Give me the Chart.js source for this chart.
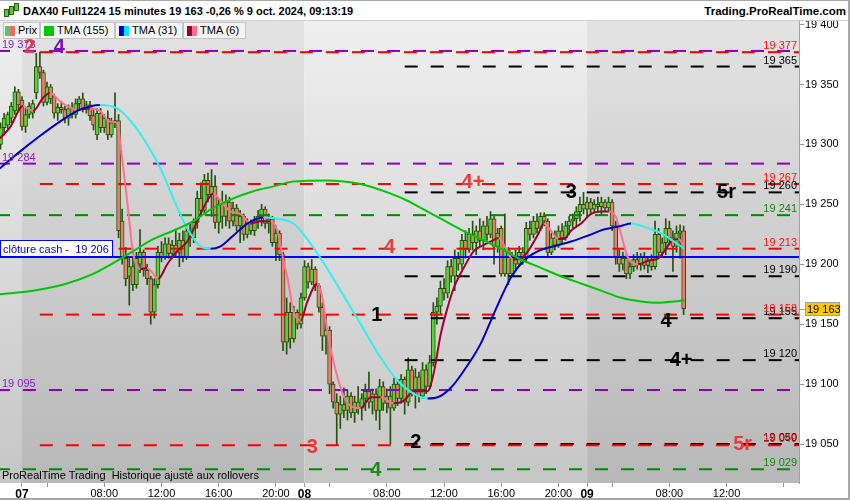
<!DOCTYPE html>
<html>
<head>
<meta charset="utf-8">
<script src="https://cdn.jsdelivr.net/npm/chart.js"></script>
<style>
	body { margin: 0; background: #fff; font-family: "Liberation Sans", Arial, sans-serif; color: #000; }
	#wrap { position: relative; width: 850px; height: 500px; overflow: hidden; background: #fff; }
	#chart { position: absolute; left: 0; top: 0; }
	#head { position: absolute; left: 0; top: 0; width: 850px; height: 20px; background: #fff; border-bottom: 1px solid #cfcfcf; }
	#title { position: absolute; left: 23px; top: 5px; font-weight: bold; font-size: 11px; line-height: 13px; white-space: nowrap; }
	#site { position: absolute; right: 4px; top: 5px; font-weight: bold; font-size: 11.5px; line-height: 13px; }
	.ic { position: absolute; width: 3px; background: #5ac83c; border: 1px solid #2b5e12; }
	.lg { position: absolute; top: 22px; height: 17px; box-sizing: border-box; border: 1px solid #c4c4c4; background: #f5f5f5; font-size: 11px; line-height: 15px; white-space: nowrap; }
	.sw { position: absolute; top: 3px; width: 10px; height: 10px; }
	.lg .t { position: absolute; top: 0; }
	#foot { position: absolute; left: 2px; top: 469px; font-size: 11px; line-height: 13px; white-space: nowrap; }
	#frame { position: absolute; left: 0; top: 0; width: 850px; height: 500px; box-sizing: border-box; border-top: 1px solid #a8a8a8; border-right: 2px solid #a8a8a8; border-bottom: 2px solid #a8a8a8; pointer-events: none; }
</style>
</head>
<body>
<div id="wrap">
	<canvas id="chart" width="850" height="500"></canvas>
	<div id="head">
		<div class="ic" style="left:4px;top:9px;height:6px"></div>
		<div class="ic" style="left:9px;top:6px;height:7px"></div>
		<div class="ic" style="left:14px;top:3px;height:6px"></div>
		<div id="title">DAX40 Full1224 15 minutes 19 163 -0,26 % 9 oct. 2024, 09:13:19</div>
		<div id="site">Trading.ProRealTime.com</div>
	</div>
	<div class="lg" style="left:3px;width:37px">
		<div class="sw" style="left:1px;background:linear-gradient(90deg,#5ac85a 50%,#e86a6a 50%)"></div>
		<span class="t" style="left:14px">Prix</span>
	</div>
	<div class="lg" style="left:40px;width:75px">
		<div class="sw" style="left:3px;background:#00c800"></div>
		<span class="t" style="left:16px">TMA (155)</span>
	</div>
	<div class="lg" style="left:115px;width:68px">
		<div class="sw" style="left:3px;background:linear-gradient(90deg,#0000d0 50%,#00e8ff 50%)"></div>
		<span class="t" style="left:16px">TMA (31)</span>
	</div>
	<div class="lg" style="left:183px;width:63px">
		<div class="sw" style="left:3px;background:linear-gradient(90deg,#a00030 50%,#ff6e96 50%)"></div>
		<span class="t" style="left:16px">TMA (6)</span>
	</div>
	<div id="foot">ProRealTime Trading&nbsp; Historique ajusté aux rollovers</div>
	<div id="frame"></div>
</div>
<script>
// bougies 15 min : 4 oct 20:30 -> 9 oct 09:00
var opens = [19300,19314,19316,19322,19328,19344,19337,19315,19325,19326,19343,19365,19360,19335,19348,19340,19326,19331,19329,19322,
	19330,19325,19334,19338,19330,19333,19324,19308,19326,19314,19322,19308,19318,19320,19236,19205,19190,19198,19183,19200,
	19210,19195,19188,19160,19183,19210,19206,19217,19209,19216,19210,19220,19206,19228,19222,19235,19255,19245,19270,19258,
	19265,19235,19250,19240,19252,19236,19247,19232,19240,19225,19234,19228,19236,19240,19246,19234,19238,19218,19226,19208,
	19135,19160,19138,19160,19150,19172,19198,19185,19196,19182,19164,19140,19145,19100,19085,19075,19083,19078,19090,19076,
	19085,19080,19088,19094,19085,19092,19078,19098,19084,19090,19080,19100,19088,19104,19085,19112,19095,19106,19090,19112,
	19098,19118,19160,19165,19180,19176,19198,19190,19205,19200,19220,19212,19225,19218,19228,19220,19232,19225,19238,19215,
	19230,19192,19212,19192,19205,19200,19210,19205,19230,19225,19236,19230,19240,19236,19210,19222,19216,19228,19222,19232,
	19236,19238,19244,19250,19246,19252,19246,19250,19248,19252,19247,19252,19232,19206,19200,19205,19192,19198,19204,19200,
	19206,19199,19203,19198,19225,19210,19218,19230,19222,19215,19226,19228];
var highs = [19318,19326,19327,19335,19348,19346,19340,19330,19335,19337,19376,19377,19362,19352,19350,19342,19334,19336,19332,19333,
	19335,19338,19340,19343,19336,19336,19330,19330,19330,19325,19328,19322,19343,19325,19246,19214,19205,19205,19210,19229,
	19212,19200,19190,19188,19215,19219,19222,19222,19220,19228,19226,19228,19232,19234,19238,19261,19268,19275,19276,19279,
	19274,19255,19261,19258,19256,19252,19250,19245,19242,19238,19237,19240,19245,19250,19248,19242,19240,19232,19228,19210,
	19172,19168,19165,19162,19176,19203,19201,19204,19198,19184,19168,19158,19148,19102,19092,19090,19097,19095,19093,19090,
	19098,19092,19100,19110,19096,19096,19104,19102,19096,19098,19105,19104,19108,19106,19122,19115,19113,19110,19118,19116,
	19124,19168,19172,19186,19188,19203,19204,19212,19210,19225,19228,19230,19236,19232,19238,19236,19240,19244,19240,19230,
	19232,19242,19214,19210,19212,19215,19214,19235,19236,19240,19242,19243,19243,19238,19226,19228,19232,19234,19236,19240,
	19242,19248,19256,19260,19256,19255,19254,19256,19256,19254,19256,19254,19236,19212,19210,19208,19202,19208,19210,19209,
	19210,19206,19208,19236,19230,19222,19238,19236,19228,19232,19233,19232];
var lows = [19296,19308,19313,19318,19325,19327,19312,19310,19322,19322,19338,19355,19332,19333,19334,19322,19320,19326,19318,19316,
	19322,19322,19330,19327,19326,19320,19312,19304,19310,19310,19304,19306,19314,19222,19200,19182,19166,19178,19180,19193,
	19190,19183,19150,19155,19180,19202,19204,19205,19205,19206,19198,19202,19204,19215,19218,19230,19240,19243,19252,19240,
	19230,19226,19230,19232,19230,19232,19228,19218,19220,19222,19225,19224,19230,19232,19230,19226,19215,19203,19203,19128,
	19125,19130,19135,19146,19147,19170,19180,19183,19178,19160,19128,19125,19092,19080,19049,19063,19072,19070,19072,19068,
	19075,19070,19078,19080,19075,19070,19062,19078,19076,19050,19078,19082,19084,19075,19082,19090,19080,19085,19088,19092,
	19096,19115,19150,19158,19170,19172,19185,19178,19195,19196,19205,19210,19212,19208,19215,19212,19220,19222,19200,19210,
	19190,19190,19183,19190,19196,19198,19200,19202,19220,19222,19226,19228,19232,19206,19208,19212,19214,19218,19220,19225,
	19230,19232,19236,19242,19240,19242,19243,19244,19242,19244,19244,19228,19200,19194,19195,19188,19188,19194,19196,19195,
	19196,19193,19195,19196,19205,19206,19208,19216,19194,19210,19205,19158];
var closes = [19314,19322,19325,19332,19344,19333,19315,19325,19332,19334,19365,19360,19335,19348,19338,19326,19331,19329,19322,19330,
	19325,19334,19338,19330,19333,19324,19316,19326,19314,19322,19308,19318,19320,19228,19205,19188,19198,19183,19205,19210,
	19195,19188,19160,19183,19210,19206,19217,19209,19216,19210,19220,19206,19228,19222,19235,19255,19245,19270,19258,19265,
	19235,19250,19240,19252,19236,19247,19232,19240,19225,19234,19228,19236,19240,19246,19234,19238,19218,19226,19208,19135,
	19160,19138,19160,19150,19172,19198,19185,19196,19182,19164,19140,19145,19100,19085,19075,19083,19078,19090,19076,19085,
	19080,19088,19094,19085,19092,19078,19098,19084,19090,19080,19100,19088,19104,19085,19112,19095,19106,19090,19112,19098,
	19118,19160,19165,19180,19176,19198,19190,19205,19200,19220,19212,19225,19218,19228,19220,19232,19225,19238,19215,19226,
	19192,19212,19192,19205,19200,19210,19205,19230,19225,19236,19230,19240,19236,19210,19222,19216,19228,19222,19232,19236,
	19238,19244,19250,19246,19252,19246,19250,19248,19252,19247,19252,19232,19206,19200,19205,19192,19198,19204,19200,19206,
	19199,19203,19198,19225,19210,19218,19230,19222,19215,19226,19228,19163];

// moyennes : [indice de barre, valeur]
var tma6 = [[-0.2,19305],[2.6,19314],[6.3,19332],[9.1,19328],[11.9,19339],[13.8,19343],[16.6,19336],[18.6,19332],[21.4,19329],[25.0,19330],
	[27.8,19328],[30.6,19319],[32.6,19318],[33.5,19300],[35.4,19253],[37.1,19209],[39.1,19196],[41.0,19197],[42.7,19192],[44.1,19188],
	[46.6,19200],[49.4,19211],[52.2,19219],[55.0,19236],[57.8,19253],[59.5,19259],[61.5,19253],[64.3,19244],[67.1,19242],[69.9,19234],
	[72.7,19236],[75.5,19236],[77.4,19228],[79.1,19203],[80.2,19189],[81.9,19161],[83.9,19153],[85.8,19169],[88.6,19184],[90.0,19172],
	[91.4,19144],[93.1,19119],[95.1,19097],[97.0,19084],[100.7,19080],[103.5,19089],[106.3,19089],[109.9,19084],[112.7,19086],[115.5,19094],
	[119.4,19094],[121.1,19109],[123.1,19142],[125.0,19164],[126.7,19180],[129.5,19197],[132.3,19211],[134.3,19215],[137.1,19219],[139.3,19222],
	[141.3,19213],[143.3,19204],[145.5,19205],[147.5,19211],[150.3,19225],[151.9,19234],[153.9,19228],[155.9,19221],[157.5,19221],[159.5,19228],
	[162.3,19234],[165.1,19242],[167.9,19244],[170.1,19244],[172.1,19239],[173.5,19225],[175.5,19205],[178.3,19200],[181.1,19203],[183.9,19205],
	[185.6,19211],[187.5,19219],[189.5,19221],[191.2,19215]];
var tma31 = [[-0.2,19280],[5.4,19294],[11.0,19307],[16.6,19319],[22.2,19329],[27.8,19333],[32.6,19330],[37.1,19317],[41.0,19300],[44.7,19280],
	[48.3,19255],[52.2,19230],[55.9,19215],[58.7,19213],[61.5,19215],[65.1,19224],[69.0,19234],[73.5,19239],[77.4,19238],[81.9,19234],
	[83.9,19228],[89.5,19205],[95.1,19178],[100.7,19150],[106.3,19122],[111.0,19103],[115.5,19092],[119.4,19088],[122.2,19089],[125.9,19097],
	[129.5,19111],[134.3,19134],[137.1,19153],[139.9,19172],[142.7,19189],[146.3,19203],[150.3,19211],[154.7,19215],[159.5,19219],[164.3,19224],
	[168.7,19229],[173.5,19232],[176.3,19234],[181.1,19230],[184.7,19226],[188.3,19219],[191.2,19213]];
var tma155 = [[-0.2,19175],[9.1,19178],[18.6,19184],[25.9,19192],[31.5,19201],[37.1,19211],[42.7,19221],[48.3,19228],[53.9,19236],[59.5,19247],
	[65.1,19255],[70.7,19261],[76.3,19265],[81.9,19269],[90.9,19270],[100.7,19267],[109.1,19259],[113.8,19253],[117.5,19247],[123.1,19238],
	[128.7,19229],[134.3,19221],[139.9,19213],[145.5,19204],[151.1,19197],[156.7,19190],[162.3,19184],[167.9,19178],[173.5,19172],[179.1,19169],
	[183.9,19168],[188.3,19169],[191.2,19170]];

// niveaux horizontaux
var levelValues = [19378, 19377, 19365, 19284, 19267, 19260, 19241, 19213, 19190, 19158, 19155, 19120, 19095, 19049, 19050, 19029];
var levelKind   = ['violet','rouge','noir','violet','rouge','noir','vert','rouge','noir','rouge','noir','noir','violet','rouge','noir','vert'];
var levelFrom   = [-1, 11, 113, -1, 11, 113, -1, 33, 113, 11, 113, 113, -1, 11, 113, -1];
var cashLevel = 19206;

// repères numérotés
var markText = ['2', '4', '4+', '3', '5r', '4', '1', '4', '4+', '3', '2', '5r', '4'];
var markKind = ['rouge','violet','rouge','noir','noir','rouge','noir','noir','noir','rouge','noir','rouge','vert'];
var markIdx  = [8.1, 16.4, 132.1, 159.6, 203.0, 108.8, 105.2, 186.1, 190.3, 87.2, 116.1, 207.5, 104.9];
var markVal  = [19381, 19381, 19268, 19260, 19260, 19214, 19157, 19152, 19120, 19047, 19051, 19050, 19028];

// axe du temps
var dayStart = [6, 85, 164];
var xTickIdx  = [6, 13, 29, 45, 61, 77, 85, 92, 108, 124, 140, 156, 164, 171, 187, 203, 219];
var xTickText = ['07', '', '08:00', '12:00', '16:00', '20:00', '08', '', '08:00', '12:00', '16:00', '20:00', '09', '', '08:00', '12:00', ''];
var yTicks = [19050, 19100, 19150, 19200, 19250, 19300, 19350, 19400];

var lineColor  = { violet: '#8a00c8', rouge: '#ff0000', noir: '#000000', vert: '#008a00' };
var labelColor = { violet: '#8a20c8', rouge: '#ff1010', noir: '#000000', vert: '#118811' };
var markColor  = { violet: '#7a10c0', rouge: '#e83a3a', noir: '#000000', vert: '#1a8a1a' };
var FONT = '"Liberation Sans", Arial, sans-serif';

function fmt(v) {
	return String(v).replace(/\B(?=(\d{3})+(?!\d))/g, ' ');
}

function maLine(pts, up, down) {
	return {
		type: 'line',
		order: 0,
		data: pts.map(function (p) { return {x: p[0], y: p[1]}; }),
		borderColor: up,
		borderWidth: 2,
		pointRadius: 0,
		cubicInterpolationMode: 'monotone',
		segment: {
			borderColor: function (s) { return s.p1.parsed.y >= s.p0.parsed.y ? up : down; }
		}
	};
}

var wicks = [], bodies = [];
for (var i = 0; i < opens.length; i++) {
	wicks.push({x: i, y: [lows[i], highs[i]]});
	bodies.push({x: i, y: [opens[i], closes[i]]});
}

var datasets = [
	maLine(tma155, '#00c800', '#00c800'),
	maLine(tma31, '#0000c8', '#30f0f0'),
	maLine(tma6, '#a00032', '#ff7094'),
	{
		type: 'line', order: 1,
		data: [{x: -1, y: cashLevel}, {x: 230, y: cashLevel}],
		borderColor: '#0000ff', borderWidth: 2, pointRadius: 0
	},
	{
		type: 'bar', order: 2, grouped: false,
		data: bodies,
		barThickness: 4,
		borderWidth: 1,
		borderSkipped: false,
		borderColor: '#24520c',
		backgroundColor: function (c) {
			var k = c.dataIndex;
			return closes[k] >= opens[k] ? '#5ad23c' : '#e9806e';
		}
	},
	{
		type: 'bar', order: 3, grouped: false,
		data: wicks,
		barThickness: 1,
		borderWidth: 0,
		backgroundColor: '#24520c'
	}
];

for (var j = 0; j < levelValues.length; j++) {
	datasets.push({
		type: 'line', order: 1,
		data: [{x: levelFrom[j], y: levelValues[j]}, {x: 230, y: levelValues[j]}],
		borderColor: lineColor[levelKind[j]],
		borderWidth: 2,
		borderDash: [13, 13],
		pointRadius: 0
	});
}

var overlay = {
	id: 'overlay',
	beforeDraw: function (chart) {
		var ctx = chart.ctx, a = chart.chartArea, x = chart.scales.x;
		var edges = [a.left];
		dayStart.forEach(function (d) { edges.push(x.getPixelForValue(d)); });
		edges.push(a.right);
		ctx.save();
		for (var k = 0; k < edges.length - 1; k++) {
			var g = ctx.createLinearGradient(0, a.top, 0, a.bottom);
			var light = k % 2 === 0;
			g.addColorStop(0, light ? '#efefef' : '#e3e3e3');
			g.addColorStop(1, light ? '#c6c6c6' : '#b8b8b8');
			ctx.fillStyle = g;
			ctx.fillRect(edges[k], a.top, edges[k + 1] - edges[k], a.bottom - a.top);
		}
		ctx.restore();
	},
	afterDatasetsDraw: function (chart) {
		var ctx = chart.ctx, a = chart.chartArea, x = chart.scales.x, y = chart.scales.y;
		ctx.save();
		ctx.font = '11px ' + FONT;
		ctx.textBaseline = 'alphabetic';
		// noirs d'abord, les autres passent dessus
		[true, false].forEach(function (pass) {
			for (var k = 0; k < levelValues.length; k++) {
				if ((levelKind[k] === 'noir') !== pass) continue;
				var py = y.getPixelForValue(levelValues[k]);
				ctx.fillStyle = labelColor[levelKind[k]];
				if (levelKind[k] === 'violet') {
					ctx.textAlign = 'left';
					ctx.fillText(fmt(levelValues[k]), a.left + 2, py - 3);
				} else {
					ctx.textAlign = 'right';
					ctx.fillText(fmt(levelValues[k]), a.right - 2, py - 3);
				}
			}
		});

		// clôture cash
		var cy = Math.round(y.getPixelForValue(cashLevel));
		ctx.fillStyle = '#fff';
		ctx.fillRect(a.left, cy - 16, 113, 15);
		ctx.strokeStyle = '#0000ff';
		ctx.lineWidth = 1;
		ctx.strokeRect(a.left + 0.5, cy - 16.5, 112, 16);
		ctx.fillStyle = '#0000c8';
		ctx.textAlign = 'left';
		ctx.fillText('clôture cash -  ' + fmt(cashLevel), a.left + 3, cy - 4);

		// repères
		ctx.font = 'bold 20px ' + FONT;
		ctx.textAlign = 'center';
		ctx.textBaseline = 'middle';
		for (var m = 0; m < markText.length; m++) {
			ctx.fillStyle = markColor[markKind[m]];
			ctx.fillText(markText[m], x.getPixelForValue(markIdx[m]), y.getPixelForValue(markVal[m]));
		}

		// dernier cours
		var last = closes[closes.length - 1];
		var ly = Math.round(y.getPixelForValue(last));
		ctx.strokeStyle = '#999';
		ctx.beginPath();
		ctx.moveTo(a.right, ly + 0.5);
		ctx.lineTo(a.right + 6, ly + 0.5);
		ctx.stroke();
		ctx.fillStyle = '#ffc800';
		ctx.fillRect(a.right + 6, ly - 7, 35, 14);
		ctx.strokeStyle = '#a0a0a0';
		ctx.strokeRect(a.right + 6.5, ly - 6.5, 34, 13);
		ctx.fillStyle = '#000';
		ctx.font = '11px ' + FONT;
		ctx.textAlign = 'left';
		ctx.fillText(fmt(last), a.right + 8, ly + 0.5);
		ctx.restore();
	}
};

Chart.defaults.font.family = FONT;

new Chart(document.getElementById('chart'), {
	type: 'bar',
	data: { datasets: datasets },
	options: {
		responsive: false,
		animation: false,
		events: [],
		layout: { padding: { top: 21 } },
		plugins: { legend: { display: false }, tooltip: { enabled: false } },
		scales: {
			x: {
				type: 'linear',
				min: -0.15,
				max: 223.25,
				offset: false,
				grid: { display: true, offset: false, drawOnChartArea: false, tickLength: 4, color: '#999' },
				border: { display: false },
				afterBuildTicks: function (s) {
					s.ticks = xTickIdx.map(function (v) { return {value: v}; });
				},
				afterFit: function (s) { s.height = 17; },
				ticks: {
					autoSkip: false,
					maxRotation: 0,
					padding: 0,
					color: '#000',
					callback: function (v) { return xTickText[xTickIdx.indexOf(v)]; },
					font: function (c) {
						var t = c.tick ? xTickText[xTickIdx.indexOf(c.tick.value)] : '';
						return t && t.length === 2 ? { size: 12, weight: 'bold' } : { size: 11 };
					}
				}
			},
			y: {
				type: 'linear',
				position: 'right',
				min: 19017.5,
				max: 19403,
				grid: { drawOnChartArea: false, tickLength: 5, color: '#999' },
				border: { display: true, color: '#a0a0a0' },
				afterBuildTicks: function (s) {
					s.ticks = yTicks.map(function (v) { return {value: v}; });
				},
				afterFit: function (s) { s.width = 51; },
				ticks: {
					padding: 1,
					color: '#000',
					font: { size: 11 },
					callback: function (v) { return fmt(v); }
				}
			}
		}
	},
	plugins: [overlay]
});
</script>
</body>
</html>
